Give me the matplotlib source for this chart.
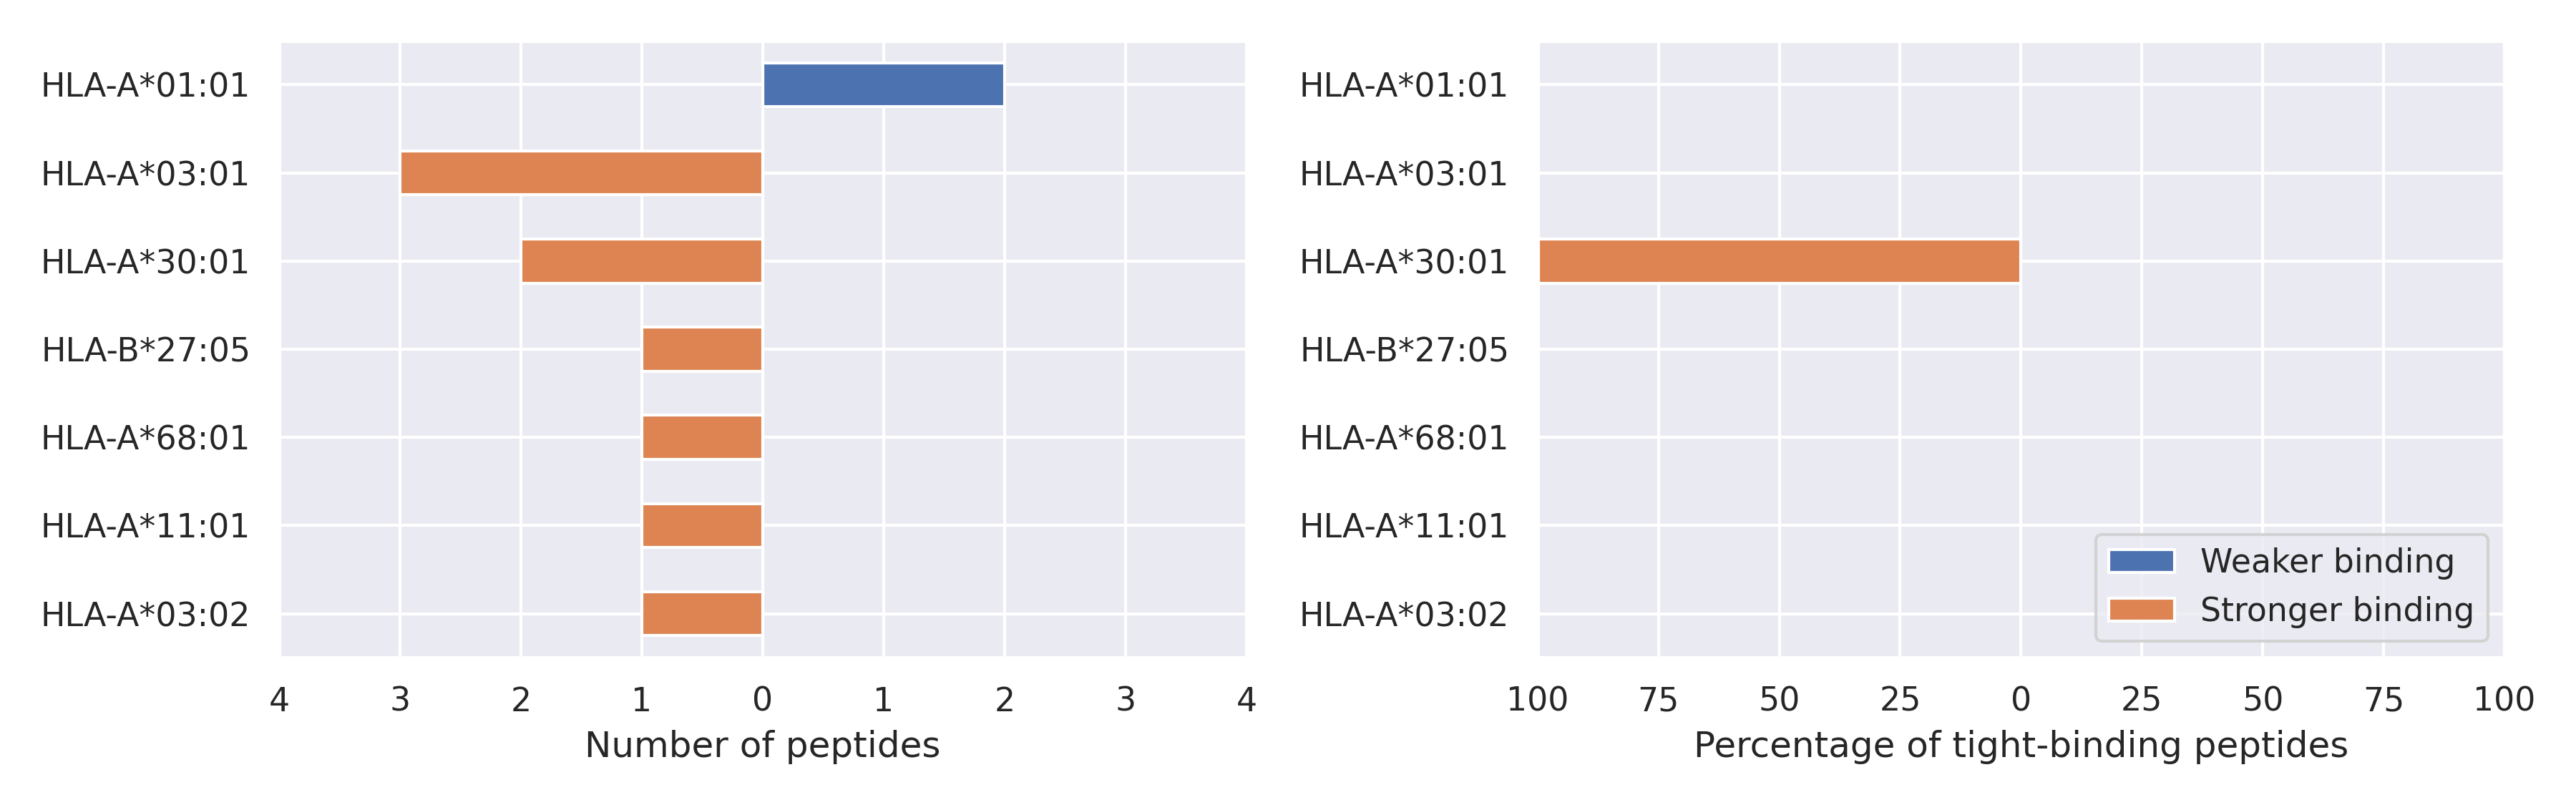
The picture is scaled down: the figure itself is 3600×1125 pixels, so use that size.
import numpy as np
import matplotlib
matplotlib.use("Agg")
import matplotlib.pyplot as plt
import seaborn as sns

sns.set_theme(style="darkgrid")

alleles = ["HLA-A*01:01", "HLA-A*03:01", "HLA-A*30:01", "HLA-B*27:05",
           "HLA-A*68:01", "HLA-A*11:01", "HLA-A*03:02"]
weaker_counts = [2, 0, 0, 0, 0, 0, 0]
stronger_counts = [0, 3, 2, 1, 1, 1, 1]
weaker_pct = [0, 0, 0, 0, 0, 0, 0]
stronger_pct = [0, 0, 100, 0, 0, 0, 0]

blue, orange = sns.color_palette()[0], sns.color_palette()[1]
y = np.arange(len(alleles))

fig = plt.figure(figsize=(12, 3.75))
ax1 = fig.add_axes([0.1083, 0.183, 0.3756, 0.7666])
ax2 = fig.add_axes([0.5969, 0.183, 0.3753, 0.7666])

# left: counts
ax1.barh(y, weaker_counts, height=0.5, color=blue, edgecolor="white", label="Weaker binding")
ax1.barh(y, -np.array(stronger_counts), height=0.5, color=orange, edgecolor="white",
         label="Stronger binding")
ax1.set_xlim(-4, 4)
ticks = np.arange(-4, 5)
ax1.set_xticks(ticks)
ax1.set_xticklabels([str(abs(t)) for t in ticks])
ax1.set_xlabel("Number of peptides")

# right: percentages
ax2.barh(y, weaker_pct, height=0.5, color=blue, edgecolor="white", label="Weaker binding")
ax2.barh(y, -np.array(stronger_pct), height=0.5, color=orange, edgecolor="white",
         label="Stronger binding")
ax2.set_xlim(-100, 100)
pticks = np.arange(-100, 101, 25)
ax2.set_xticks(pticks)
ax2.set_xticklabels([str(abs(t)) for t in pticks])
ax2.set_xlabel("Percentage of tight-binding peptides")
ax2.legend(loc="lower right")

for ax in (ax1, ax2):
    ax.set_yticks(y)
    ax.set_yticklabels(alleles)
    ax.set_ylim(len(alleles) - 0.5, -0.5)

fig.savefig("out.png", dpi=300)
